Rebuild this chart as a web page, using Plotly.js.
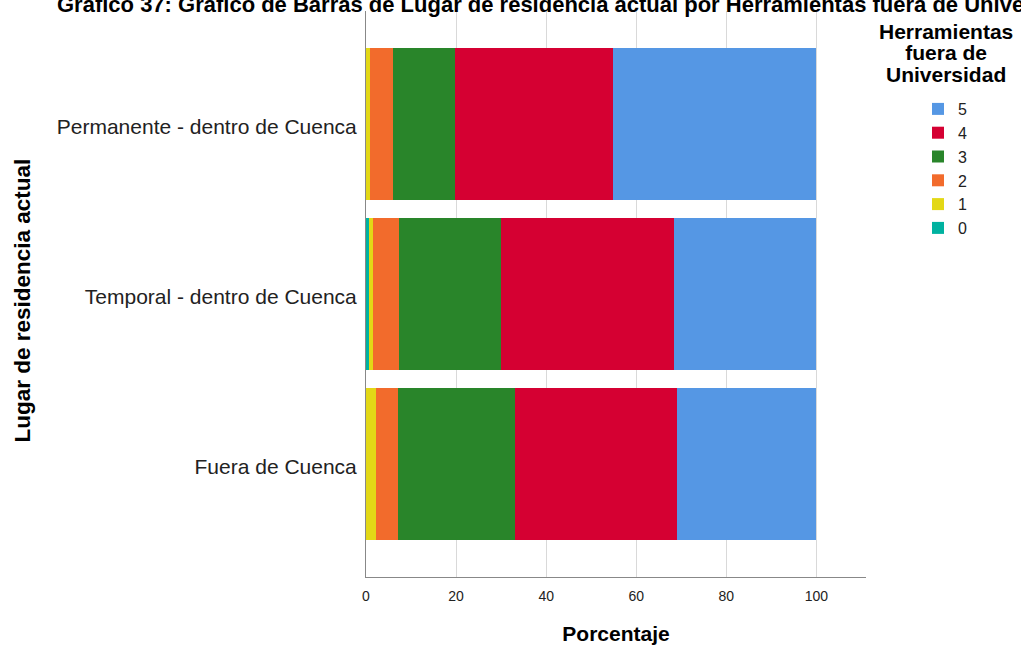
<!DOCTYPE html>
<html><head><meta charset="utf-8">
<script src="https://cdn.plot.ly/plotly-3.0.1.min.js"></script>
<style>html,body{margin:0;padding:0;background:#fff}</style>
</head><body><div id="chart" style="width:1021px;height:645px"></div>
<script>
const categories = ["Permanente - dentro de Cuenca", "Temporal - dentro de Cuenca", "Fuera de Cuenca"];
const levels = ["0", "1", "2", "3", "4", "5"];
const v0 = [0.0, 0.6, 0.0];
const v1 = [0.9, 1.0, 2.2];
const v2 = [5.1, 5.8, 4.8];
const v3 = [13.8, 22.5, 26.0];
const v4 = [35.0, 38.4, 36.0];
const v5 = [45.2, 31.7, 31.0];
const seriesValues = [v0, v1, v2, v3, v4, v5];
const tickValues = [0, 20, 40, 60, 80, 100];
const legendTitleLines = ["Herramientas", "fuera de", "Universidad"];
const colors = ["#00B2A0", "#E3D816", "#F26B2C", "#29852A", "#D50032", "#5597E4"];

const traces = levels.map((lv, i) => ({
  type: "bar", orientation: "h", name: lv,
  x: seriesValues[i], y: categories,
  marker: {color: colors[i], line: {width: 0}},
  hoverinfo: "x+y+name"
}));

const W = 1021, H = 645, ML = 366, MR = 155, MT = 11, MB = 68;
const px2x = p => (p - ML) / (W - ML - MR);
const py2y = p => (H - MB - p) / (H - MT - MB);

const annotations = [
  {
    text: legendTitleLines.map(t => '<span style="font-size:21px"><b>' + t + '</b></span>').join("<br>"),
    xref: "paper", yref: "paper", x: px2x(946), y: py2y(53),
    xanchor: "center", yanchor: "middle", align: "center", showarrow: false,
    font: {size: 16.5, color: "#000"}
  },
  {
    text: "<b>Lugar de residencia actual</b>", textangle: -90,
    xref: "paper", yref: "paper", x: px2x(21.5), y: py2y(301),
    xanchor: "center", yanchor: "middle", showarrow: false,
    font: {size: 22.5, color: "#000"}
  }
];

const layout = {
  width: W, height: H,
  margin: {l: ML, r: MR, t: MT, b: MB},
  barmode: "stack", bargap: 0.105,
  paper_bgcolor: "#fff", plot_bgcolor: "#fff",
  font: {family: "Liberation Sans, Arial, sans-serif", color: "#222"},
  title: {
    text: "<b>Gráfico 37: Gráfico de Barras de Lugar de residencia actual por Herramientas fuera de Universidad</b>",
    font: {size: 22, color: "#000"}, xref: "container", x: 57/W, xanchor: "left",
    yref: "container", y: 1 - 4/H, yanchor: "middle"
  },
  xaxis: {
    range: [0, 111], tickvals: tickValues, ticks: "",
    showgrid: true, gridcolor: "#d9d9d9", gridwidth: 1, zeroline: false,
    showline: true, linecolor: "#888", linewidth: 1,
    tickfont: {size: 14, color: "#222"}, ticklabelstandoff: 6,
    title: {text: "<b>Porcentaje</b>", font: {size: 21, color: "#000"}, standoff: 24}
  },
  yaxis: {
    autorange: false, range: [2.665, -0.665], type: "category",
    showline: true, linecolor: "#888", linewidth: 1, ticks: "", showgrid: false, zeroline: false,
    tickfont: {size: 21, color: "#222"}, ticklabelstandoff: 4, ticklabelshift: -3
  },
  legend: {
    traceorder: "reversed", xref: "container", x: 918/W, xanchor: "left",
    yref: "container", y: 1 - 92/H, yanchor: "top",
    font: {size: 16, color: "#222"}, itemwidth: 30, bgcolor: "rgba(0,0,0,0)"
  },
  annotations: annotations,
  showlegend: true
};
Plotly.newPlot("chart", traces, layout, {displayModeBar: false, staticPlot: true});
</script></body></html>
